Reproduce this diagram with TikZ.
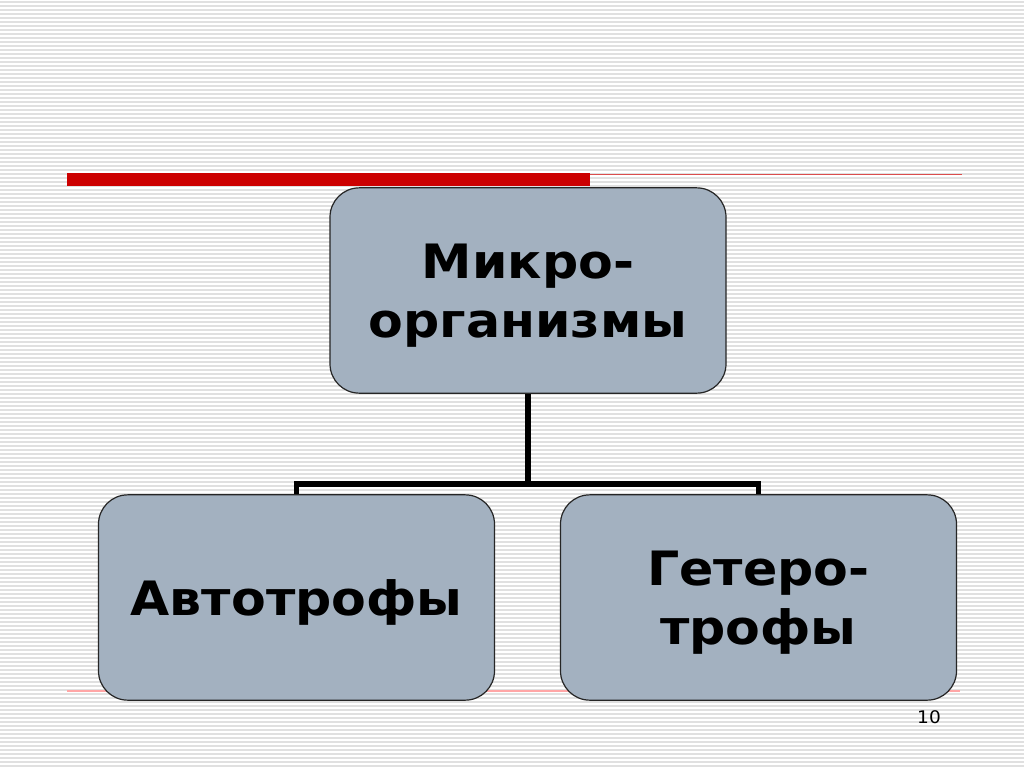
\documentclass[tikz,border=0pt]{standalone}
\usepackage{fontspec}
\setmainfont{DejaVu Sans}[FakeStretch=1.07]
\definecolor{boxfill}{HTML}{A3B1C0}
\definecolor{barred}{HTML}{CC0000}
\definecolor{stripe}{HTML}{E0E0E0}
\begin{document}
\begin{tikzpicture}[
    x=0.75pt, y=-0.75pt,
    box/.style={rectangle, draw=black!85, line width=0.9pt, rounded corners=22pt, fill=boxfill, minimum width=297pt, minimum height=154pt, align=center, text depth=0pt, font=\fontsize{35.5}{44}\selectfont\bfseries},
    twoline/.style={text depth=-6pt},
    link/.style={line width=4pt},
]
% Background with stripes
\fill[white] (0,0) rectangle (1024,767);
\useasboundingbox (0,0) rectangle (1024,767);
\foreach \y in {2,6,...,766}
    \draw[stripe, line width=1.1pt] (0,\y) -- (1024,\y);

% Title bar
\fill[barred] (67,173) rectangle (590,186);
\draw[barred!70, line width=1pt] (590,174.5) -- (962,174.5);

% Bottom line
\draw[red!35, line width=1pt] (67,691) -- (960,691);

% Boxes
\node[box, twoline] (micro) at (528,290.5) {Микро-\\организмы};
\node[box] (auto) at (296.5,597.5) {Автотрофы};
\node[box, twoline] (hetero) at (758.5,597.5) {Гетеро-\\трофы};

% Connectors
\coordinate (fork) at (528,484);
\draw[link] (micro.south) -- (fork);
\draw[link] (auto.north) |- (fork) -| (hetero.north);

% Page number
\node[font=\fontsize{13}{15}\selectfont] (page) at (929,717) {10};
\end{tikzpicture}
\end{document}
